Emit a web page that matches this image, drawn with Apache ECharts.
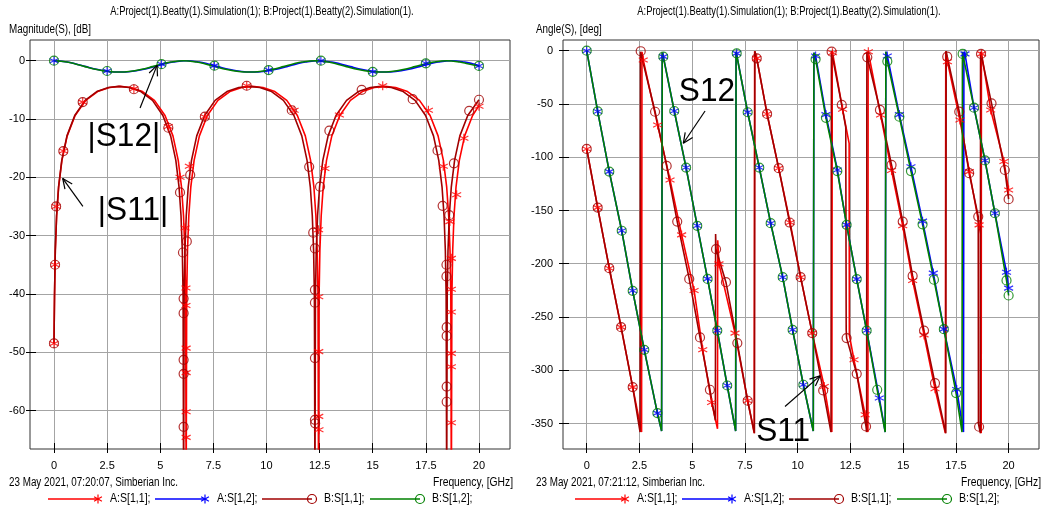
<!DOCTYPE html>
<html><head><meta charset="utf-8">
<script src="https://cdn.jsdelivr.net/npm/echarts@6/dist/echarts.min.js"></script>
<style>html,body{margin:0;padding:0;background:#fff}#c{width:1048px;height:510px}</style>
</head><body><div id="c"></div>
<script>
// ---------------- texts & ticks ----------------
const TITLE = 'A:Project(1).Beatty(1).Simulation(1); B:Project(1).Beatty(2).Simulation(1).';
const FOOT_L = '23 May 2021, 07:20:07, Simberian Inc.';
const FOOT_R = '23 May 2021, 07:21:12, Simberian Inc.';
const YNAME_L = 'Magnitude(S), [dB]';
const YNAME_R = 'Angle(S), [deg]';
const XNAME = 'Frequency, [GHz]';
const SERIES_NAMES = ['A:S[1,1];', 'A:S[1,2];', 'B:S[1,1];', 'B:S[1,2];'];
const FREQ_TICKS = [0, 2.5, 5, 7.5, 10, 12.5, 15, 17.5, 20];
const MAG_TICKS = [0, -10, -20, -30, -40, -50, -60];
const ANG_TICKS = [0, -50, -100, -150, -200, -250, -300, -350];

// ---------------- magnitude (dB) ----------------
const MAG_A_S11 = [[0,-48.5],[0.025,-40.5],[0.062,-32.6],[0.124,-26.6],[0.218,-21.7],[0.373,-17.1],[0.622,-12.9],[0.995,-9.4],[1.493,-6.8],[2.053,-5.3],[2.612,-4.6],[3.11,-4.4],[3.608,-4.6],[4.167,-5.3],[4.727,-6.8],[5.225,-9.4],[5.598,-12.9],[5.847,-17.1],[6.002,-21.7],[6.096,-26.6],[6.158,-32.6],[6.195,-40.5],[6.22,-75],
[6.245,-40.5],[6.282,-32.6],[6.345,-26.6],[6.438,-21.7],[6.594,-17.1],[6.843,-12.9],[7.217,-9.4],[7.715,-6.8],[8.276,-5.3],[8.837,-4.6],[9.335,-4.4],[9.833,-4.6],[10.394,-5.3],[10.955,-6.8],[11.453,-9.4],[11.827,-12.9],[12.076,-17.1],[12.232,-21.7],[12.325,-26.6],[12.388,-32.6],[12.425,-40.5],[12.45,-75],
[12.475,-40.5],[12.513,-32.6],[12.575,-26.6],[12.669,-21.7],[12.825,-17.1],[13.075,-12.9],[13.45,-9.4],[13.95,-6.8],[14.513,-5.3],[15.075,-4.6],[15.575,-4.4],[16.075,-4.6],[16.638,-5.3],[17.2,-6.8],[17.7,-9.4],[18.075,-12.9],[18.325,-17.1],[18.481,-21.7],[18.575,-26.6],[18.638,-32.6],[18.675,-40.5],[18.7,-75],
[18.725,-40.5],[18.763,-32.6],[18.825,-26.6],[18.919,-21.7],[19.075,-17.1],[19.325,-12.9],[19.7,-9.4],[20,-7.7]];
const MAG_B_S11 = [[0,-48.5],[0.024,-40.5],[0.061,-32.6],[0.122,-26.6],[0.214,-21.7],[0.366,-17.1],[0.61,-12.9],[0.976,-9.4],[1.464,-6.8],[2.013,-5.3],[2.562,-4.6],[3.05,-4.4],[3.538,-4.6],[4.087,-5.3],[4.636,-6.8],[5.124,-9.4],[5.49,-12.9],[5.734,-17.1],[5.886,-21.7],[5.978,-26.6],[6.039,-32.6],[6.076,-40.5],[6.1,-75],
[6.125,-40.5],[6.162,-32.6],[6.224,-26.6],[6.316,-21.7],[6.471,-17.1],[6.718,-12.9],[7.089,-9.4],[7.583,-6.8],[8.139,-5.3],[8.696,-4.6],[9.19,-4.4],[9.684,-4.6],[10.241,-5.3],[10.797,-6.8],[11.291,-9.4],[11.662,-12.9],[11.909,-17.1],[12.064,-21.7],[12.156,-26.6],[12.218,-32.6],[12.255,-40.5],[12.28,-75],
[12.305,-40.5],[12.342,-32.6],[12.404,-26.6],[12.497,-21.7],[12.652,-17.1],[12.9,-12.9],[13.272,-9.4],[13.768,-6.8],[14.326,-5.3],[14.884,-4.6],[15.38,-4.4],[15.876,-4.6],[16.434,-5.3],[16.992,-6.8],[17.488,-9.4],[17.86,-12.9],[18.108,-17.1],[18.263,-21.7],[18.356,-26.6],[18.418,-32.6],[18.455,-40.5],[18.48,-75],
[18.505,-40.5],[18.542,-32.6],[18.604,-26.6],[18.697,-21.7],[18.852,-17.1],[19.1,-12.9],[19.472,-9.4],[20,-6.7]];
const MAG_A_S12 = [[0,0],[0.622,-0.23],[0.995,-0.53],[1.493,-1.02],[2.053,-1.52],[2.612,-1.85],[3.11,-1.94],[3.608,-1.85],[4.167,-1.52],[4.727,-1.02],[5.225,-0.53],[5.598,-0.23],[6.22,0],[6.843,-0.23],[7.217,-0.53],[7.715,-1.02],[8.276,-1.52],[8.837,-1.85],[9.335,-1.94],[9.833,-1.85],[10.394,-1.52],[10.955,-1.02],[11.453,-0.53],[11.827,-0.23],[12.45,0],[13.075,-0.23],[13.45,-0.53],[13.95,-1.02],[14.513,-1.52],[15.075,-1.85],[15.575,-1.94],[16.075,-1.85],[16.638,-1.52],[17.2,-1.02],[17.7,-0.53],[18.075,-0.23],[18.7,0],[19.325,-0.23],[19.7,-0.53],[20,-0.85]];
const MAG_B_S12 = [[0,0],[0.61,-0.23],[0.976,-0.53],[1.464,-1.02],[2.013,-1.52],[2.562,-1.85],[3.05,-1.94],[3.538,-1.85],[4.087,-1.52],[4.636,-1.02],[5.124,-0.53],[5.49,-0.23],[6.1,0],[6.718,-0.23],[7.089,-0.53],[7.583,-1.02],[8.139,-1.52],[8.696,-1.85],[9.19,-1.94],[9.684,-1.85],[10.241,-1.52],[10.797,-1.02],[11.291,-0.53],[11.662,-0.23],[12.28,0],[12.9,-0.23],[13.272,-0.53],[13.768,-1.02],[14.326,-1.52],[14.884,-1.85],[15.38,-1.94],[15.876,-1.85],[16.434,-1.52],[16.992,-1.02],[17.488,-0.53],[17.86,-0.23],[18.48,0],[19.1,-0.23],[19.472,-0.53],[20,-0.95]];
// magnitude markers
const MAG_A_S11_MK = [[0,-48.5],[0.05,-35],[0.1,-25],[0.44,-15.5],[1.35,-7.1],[3.76,-4.8],[5.38,-11.3],[5.93,-20],[6.17,-28.7],[6.21,-39],[6.21,-42],[6.22,-49.3],[6.22,-53.5],[6.22,-60.2],[6.22,-64.6],[6.37,-18.1],[7.1,-9.6],[9.07,-4.3],[11.3,-8.5],[12.45,-29],[12.46,-40.5],[12.46,-49.9],[12.46,-61],[12.47,-63.3],[12.75,-18.5],[13.43,-9.3],[15.47,-4.3],[17.62,-8.5],[18.32,-18.1],[18.63,-27.6],[18.7,-33.9],[18.7,-39.2],[18.7,-43.1],[18.7,-50.2],[18.7,-52.5],[18.7,-62.1],[18.95,-23],[19.29,-13.3],[20,-7.8]];
const MAG_B_S11_MK = [[0,-48.5],[0.05,-35],[0.1,-25],[0.44,-15.5],[1.35,-7.1],[3.76,-4.9],[5.38,-11.5],[5.93,-22.6],[6.07,-32.9],[6.1,-40.8],[6.1,-43.3],[6.1,-51.3],[6.1,-53.7],[6.1,-62.8],[6.25,-31],[6.41,-19.6],[7.1,-9.6],[9.07,-4.3],[11.19,-8.5],[12.01,-18.2],[12.2,-29.5],[12.28,-32.2],[12.28,-39.3],[12.28,-41.5],[12.28,-51],[12.28,-61.6],[12.29,-62.2],[12.52,-21.6],[12.96,-12],[14.48,-5],[16.88,-6.6],[18.05,-15.4],[18.29,-24.9],[18.47,-35],[18.47,-37],[18.48,-45.7],[18.48,-47.2],[18.48,-55.9],[18.48,-58.5],[18.6,-26.5],[18.82,-17.6],[19.54,-8.6],[20,-6.7]];
const MAG_A_S12_MK = [[0,0],[2.5,-1.77],[5.06,-0.6],[7.55,-0.85],[10.1,-1.6],[12.56,0],[15,-1.9],[17.5,-0.45],[20,-0.9]];
const MAG_B_S12_MK = [[0,0],[2.5,-1.77],[5.06,-0.6],[7.55,-0.85],[10.1,-1.6],[12.56,0],[15,-1.9],[17.5,-0.45],[20,-0.9]];

// ---------------- angle (deg) ----------------
const PH_A_S11_MK = [[0,-92.2],[0.52,-147.3],[1.07,-204.2],[1.63,-259.5],[2.18,-315.8],[2.68,-8.7],[3.36,-69.7],[3.95,-121.3],[4.5,-172.9],[5.09,-225.1],[5.5,-280.8],[5.92,-330.2],[6.27,-200.1],[7.03,-265.1],[7.63,-328.6],[8.06,-7.2],[8.55,-59.4],[9.1,-110.3],[9.64,-161.3],[10.14,-212.6],[10.69,-265.1],[11.26,-315.2],[11.65,-1.9],[12.13,-55],[12.67,-290.2],[13.2,-341.7],[13.35,-1],[13.93,-60.3],[14.45,-112.5],[14.98,-164.4],[15.45,-215.8],[15.99,-266.8],[16.51,-317.4],[17.1,-10.3],[17.69,-65],[18.14,-113.5],[18.6,-163.5],[18.72,-3],[19.15,-55.6],[19.78,-104],[20,-130.7]];
const PH_A_S11_EX = [[2.6,-358],[2.62,-1],[6.2,-355],[6.21,-178],[7.94,-359],[7.96,-0.5],[11.62,-358],[11.64,-0.5],[12.44,-87],[12.45,-267],[13.33,-358],[13.34,-0.5],[17.0,-359],[17.02,-0.5],[18.67,-172],[18.68,-355],[18.7,-359],[18.71,-1]];
const PH_B_S11_MK = [[0,-92.2],[0.52,-147.3],[1.07,-204.2],[1.63,-259.5],[2.18,-315.8],[2.56,-0.5],[3.24,-57.3],[3.79,-108.2],[4.29,-160.4],[4.86,-214.2],[5.37,-269.2],[5.84,-318.3],[6.13,-186.3],[6.6,-217.3],[7.14,-274.5],[7.63,-328.6],[8.06,-7.2],[8.55,-59.4],[9.1,-110.3],[9.62,-161.3],[10.14,-212.6],[10.69,-265.1],[11.21,-318.9],[11.61,-0.9],[12.09,-50.9],[12.32,-269.8],[12.8,-303.3],[13.24,-352.7],[13.3,-6.2],[13.9,-55.6],[14.45,-107.2],[14.98,-160.4],[15.45,-211.4],[15.99,-262.7],[16.51,-312.1],[17.09,-5.6],[17.66,-57.2],[18.13,-115],[18.56,-155.7],[18.6,-353],[18.69,-3],[19.19,-49.4],[19.82,-112],[20,-139.4]];
const PH_B_S11_EX = [[2.53,-358],[2.55,-1],[6.1,-347],[6.11,-172],[7.95,-359],[7.97,-0.5],[11.58,-358],[11.6,-0.5],[12.28,-72],[12.3,-262],[13.27,-358],[13.28,-1],[17.02,-359],[17.04,-0.5],[18.57,-350],[18.66,-359],[18.67,-1]];
const PH_A_S12_MK = [[0,0],[0.52,-57],[1.07,-113.5],[1.66,-169],[2.18,-225.4],[2.73,-280.8],[3.35,-340.2],[3.63,-5.6],[4.15,-56.6],[4.71,-109.7],[5.24,-164.4],[5.73,-214.2],[6.19,-262.7],[6.66,-314.3],[7.11,-2.5],[7.63,-57.8],[8.18,-109.7],[8.72,-161.9],[9.29,-212.6],[9.76,-262],[10.27,-313.6],[10.85,-5],[11.34,-60],[11.88,-112],[12.32,-163.5],[12.8,-214.4],[13.27,-262.7],[13.87,-326],[14.25,-5],[14.82,-60],[15.37,-109],[15.92,-160],[16.43,-208.8],[16.93,-261.4],[17.54,-318],[17.93,-3],[18.36,-53.5],[18.88,-103],[19.35,-152.6],[19.9,-207.9],[20,-222.9]];
const PH_A_S12_EX = [[3.55,-357],[3.58,-2],[7.06,-357],[7.08,-1],[10.74,-357],[10.77,-2],[14.15,-358],[14.18,-1],[17.86,-358],[17.88,-1]];
const PH_B_S12_MK = [[0,0],[0.52,-57],[1.07,-113.5],[1.66,-169],[2.18,-225.4],[2.73,-280.8],[3.35,-340.2],[3.63,-5.6],[4.15,-56.6],[4.71,-109.7],[5.24,-164.4],[5.73,-214.2],[6.19,-262.7],[6.66,-314.3],[7.11,-2.5],[7.63,-57.8],[8.18,-109.7],[8.72,-161.9],[9.29,-212.6],[9.76,-262],[10.27,-313.6],[10.85,-8],[11.34,-63],[11.88,-113],[12.32,-163.5],[12.8,-214.4],[13.27,-262.7],[13.77,-318.3],[14.25,-10],[14.82,-62],[15.37,-113],[15.92,-163],[16.46,-215],[16.93,-261.4],[17.51,-321.4],[17.82,-3],[18.36,-53.5],[18.88,-103],[19.35,-152.6],[19.9,-215.7],[20,-229.8]];
const PH_B_S12_EX = [[3.55,-357],[3.58,-2],[7.06,-357],[7.08,-1],[10.74,-357],[10.77,-2],[14.15,-358],[14.18,-1],[17.79,-358],[17.81,-1]];

// ---------------- annotations (data coords) ----------------
const ANN_TEXT = [
  {grid:0, text:'|S12|', at:[3.29,-13.1]},
  {grid:0, text:'|S11|', at:[3.72,-25.8]},
  {grid:1, text:'S12', at:[5.7,-38.8]},
  {grid:1, text:'S11', at:[9.31,-357.9]}
];
const ANN_ARROW = [
  {grid:0, from:[4.05,-8.1], to:[4.85,-0.8]},
  {grid:0, from:[1.36,-25.0], to:[0.41,-20.2]},
  {grid:1, from:[5.61,-56.6], to:[4.58,-86.9]},
  {grid:1, from:[9.4,-334], to:[11.06,-305.3]}
];

// ---------------- styling ----------------
const FONT = "'Liberation Sans',Arial,sans-serif";
const COLORS = ['#ff0000', '#0000ff', '#a00000', '#008000'];
const ASTER = 'path://M0,-5L0,5M-4.33,-2.5L4.33,2.5M-4.33,2.5L4.33,-2.5';
const SYMBOLS = [ASTER, ASTER, 'circle', 'circle'];

const byX = (a, b) => a[0] - b[0];
const phLine = (mk, ex) => mk.concat(ex).sort(byX);

const chart = echarts.init(document.getElementById('c'));

function xAxes(grid, min, max) {
  const base = {type:'value', gridIndex:grid, min, max, position:'bottom'};
  return [
    Object.assign({}, base, {
      axisLine:{show:false, onZero:false},
      axisTick:{show:true, inside:false, length:4, customValues:FREQ_TICKS, lineStyle:{color:'#000'}},
      axisLabel:{show:true, customValues:FREQ_TICKS, margin:11, color:'#000', fontSize:11, fontFamily:FONT},
      splitLine:{show:true, lineStyle:{color:'#a4a4a4', width:1}}
    }),
    Object.assign({}, base, {
      axisLine:{show:false, onZero:false},
      axisTick:{show:true, inside:true, length:6, customValues:FREQ_TICKS, lineStyle:{color:'#000'}},
      axisLabel:{show:false}, splitLine:{show:false}
    })
  ];
}
function yAxes(grid, min, max, ticks, margin) {
  const base = {type:'value', gridIndex:grid, min, max, position:'left'};
  return [
    Object.assign({}, base, {
      axisLine:{show:false, onZero:false},
      axisTick:{show:true, inside:false, length:4, customValues:ticks, lineStyle:{color:'#000'}},
      axisLabel:{show:true, customValues:ticks, margin:margin, color:'#000', fontSize:11, fontFamily:FONT},
      splitLine:{show:true, lineStyle:{color:'#a4a4a4', width:1}}
    }),
    Object.assign({}, base, {
      axisLine:{show:false, onZero:false},
      axisTick:{show:true, inside:true, length:6, customValues:ticks, lineStyle:{color:'#000'}},
      axisLabel:{show:false}, splitLine:{show:false}
    })
  ];
}

function lineSeries(i, axisIdx, data, smooth) {
  return {type:'line', name:SERIES_NAMES[i], xAxisIndex:axisIdx, yAxisIndex:axisIdx, data,
    showSymbol:false, symbol:'none', smooth:smooth || false, animation:false, z:2,
    lineStyle:{color:COLORS[i], width:1.6}, itemStyle:{color:COLORS[i]}};
}
function markSeries(i, axisIdx, data) {
  return {type:'scatter', name:SERIES_NAMES[i], xAxisIndex:axisIdx, yAxisIndex:axisIdx, data,
    symbol:SYMBOLS[i], symbolSize:9, animation:false, z:3,
    itemStyle:{color:'rgba(0,0,0,0)', borderColor:COLORS[i], borderWidth:1.2}};
}

const option = {
  backgroundColor:'#fff',
  animation:false,
  grid:[
    {left:30, top:40, width:480, height:409, show:true, borderColor:'#333', borderWidth:1, backgroundColor:'rgba(0,0,0,0)'},
    {left:563, top:40, width:476, height:409, show:true, borderColor:'#333', borderWidth:1, backgroundColor:'rgba(0,0,0,0)'}
  ],
  xAxis: xAxes(0, -1.129, 21.46).concat(xAxes(1, -1.124, 21.44)),
  yAxis: yAxes(0, -66.6, 3.55, MAG_TICKS, 5).concat(yAxes(1, -373.9, 10.04, ANG_TICKS, 10)),
  series: [
    lineSeries(0, 0, MAG_A_S11), lineSeries(1, 0, MAG_A_S12, 0.4),
    lineSeries(2, 0, MAG_B_S11), lineSeries(3, 0, MAG_B_S12, 0.4),
    markSeries(0, 0, MAG_A_S11_MK), markSeries(1, 0, MAG_A_S12_MK),
    markSeries(2, 0, MAG_B_S11_MK), markSeries(3, 0, MAG_B_S12_MK),
    lineSeries(0, 2, phLine(PH_A_S11_MK, PH_A_S11_EX)), lineSeries(1, 2, phLine(PH_A_S12_MK, PH_A_S12_EX)),
    lineSeries(2, 2, phLine(PH_B_S11_MK, PH_B_S11_EX)), lineSeries(3, 2, phLine(PH_B_S12_MK, PH_B_S12_EX)),
    markSeries(0, 2, PH_A_S11_MK), markSeries(1, 2, PH_A_S12_MK),
    markSeries(2, 2, PH_B_S11_MK), markSeries(3, 2, PH_B_S12_MK)
  ]
};
chart.setOption(option);

// ---------------- texts, legend, annotations ----------------
const G = [];
function txt(x, y, text, size, align, sx) {
  G.push({type:'text', x, y, scaleX: sx || 0.82, silent:true, z:50,
    style:{text, fill:'#000', font: size + 'px ' + FONT, align: align || 'left', verticalAlign:'middle'}});
}
function seg(x1, y1, x2, y2, color, w) {
  G.push({type:'line', silent:true, z:50, shape:{x1, y1, x2, y2}, style:{stroke:color, lineWidth:w || 1}});
}
txt(262, 12, TITLE, 12, 'center', 0.78);
txt(789, 12, TITLE, 12, 'center', 0.78);
txt(9, 30, YNAME_L, 12);
txt(536, 30, YNAME_R, 12);
txt(9, 483, FOOT_L, 12);
txt(536, 483, FOOT_R, 12);
txt(513, 483, XNAME, 12, 'right', 0.86);
txt(1041, 483, XNAME, 12, 'right', 0.86);

const LEG_LEFT = [48, 575], LEG_OFF = [0, 107, 214, 322], LEG_Y = 499;
LEG_LEFT.forEach(L => {
  LEG_OFF.forEach((o, i) => {
    const x = L + o, c = COLORS[i];
    seg(x, LEG_Y, x + 50, LEG_Y, c, 1.6);
    const mx = x + 50;
    if (i < 2) {
      seg(mx, LEG_Y - 4.5, mx, LEG_Y + 4.5, c, 1.2);
      seg(mx - 3.9, LEG_Y - 2.25, mx + 3.9, LEG_Y + 2.25, c, 1.2);
      seg(mx - 3.9, LEG_Y + 2.25, mx + 3.9, LEG_Y - 2.25, c, 1.2);
    } else {
      G.push({type:'circle', silent:true, z:50, shape:{cx:mx, cy:LEG_Y, r:4.5}, style:{fill:'none', stroke:c, lineWidth:1.2}});
    }
    txt(x + 62, LEG_Y, SERIES_NAMES[i], 12, 'left', 0.88);
  });
});

const axisOf = g => ({xAxisIndex: g === 0 ? 0 : 2, yAxisIndex: g === 0 ? 0 : 2});
ANN_TEXT.forEach(a => {
  const p = chart.convertToPixel(axisOf(a.grid), a.at);
  G.push({type:'text', x:p[0], y:p[1], scaleX:0.93, silent:true, z:60,
    style:{text:a.text, fill:'#000', font:"34px 'Liberation Sans',Arial,sans-serif", align:'center', verticalAlign:'middle'}});
});
ANN_ARROW.forEach(a => {
  const p0 = chart.convertToPixel(axisOf(a.grid), a.from);
  const p1 = chart.convertToPixel(axisOf(a.grid), a.to);
  seg(p0[0], p0[1], p1[0], p1[1], '#000', 1.2);
  const ang = Math.atan2(p0[1] - p1[1], p0[0] - p1[0]);
  [0.42, -0.42].forEach(d => {
    seg(p1[0], p1[1], p1[0] + 11 * Math.cos(ang + d), p1[1] + 11 * Math.sin(ang + d), '#000', 1.2);
  });
});
chart.setOption({graphic: G});
</script></body></html>
